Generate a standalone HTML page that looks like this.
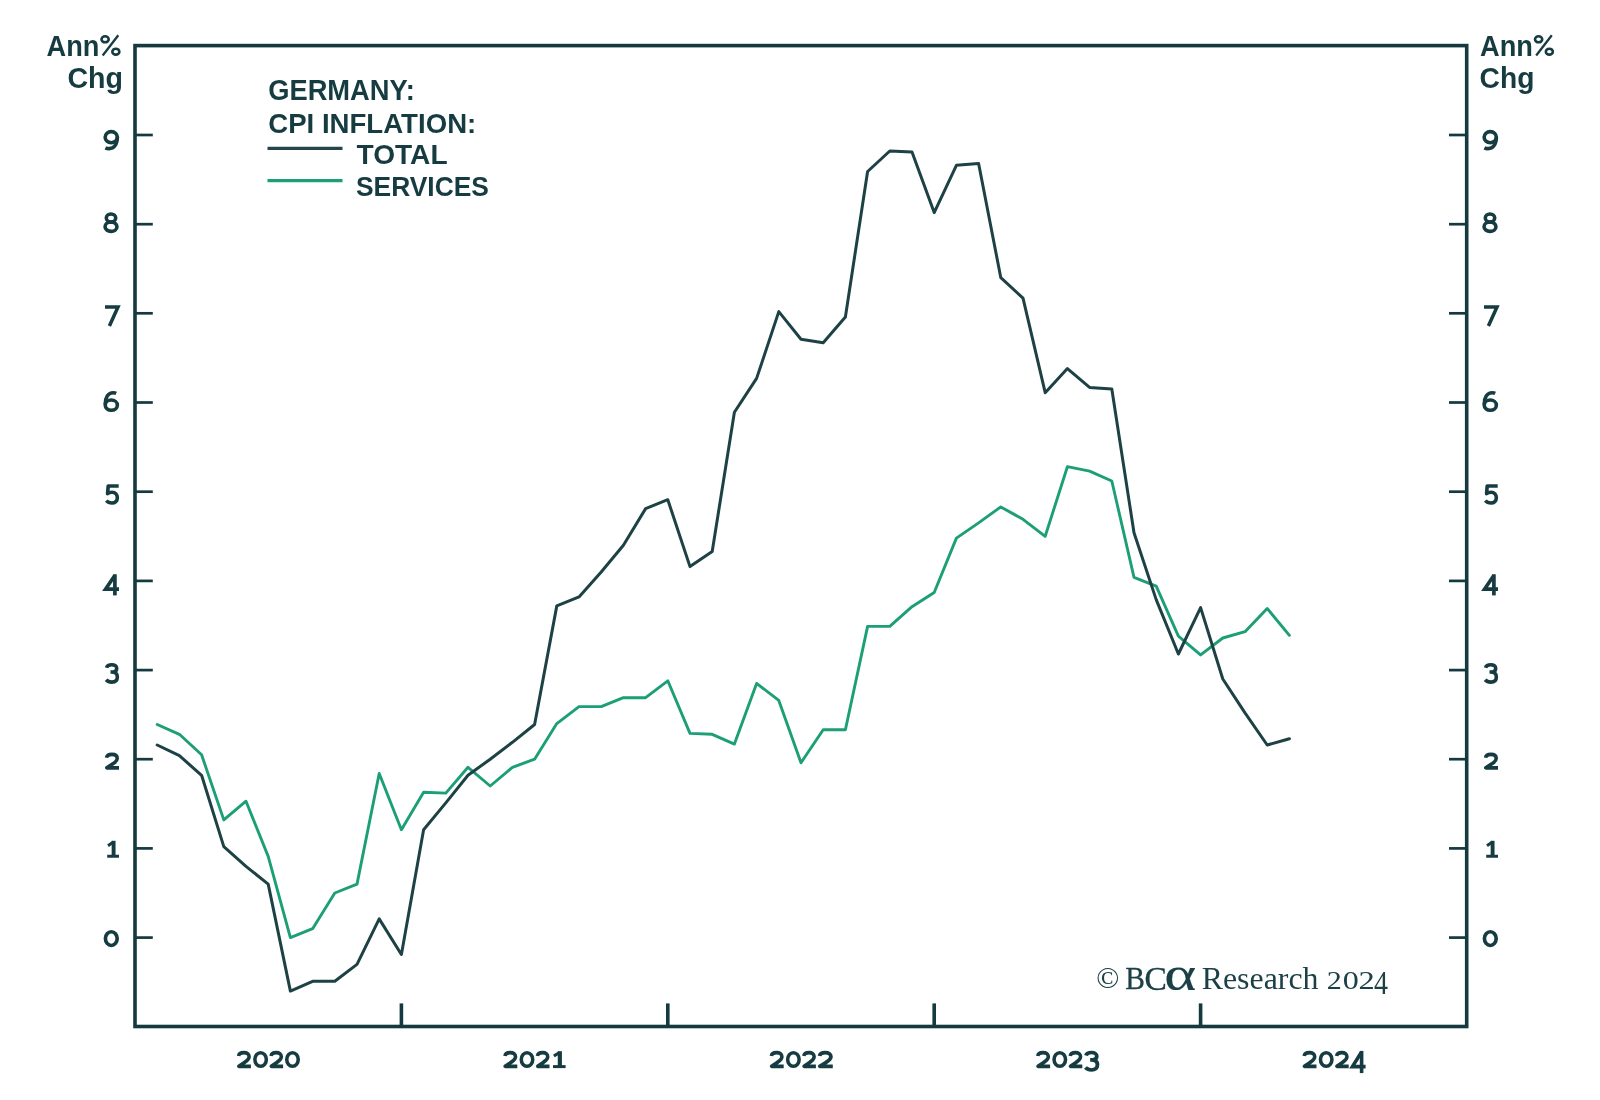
<!DOCTYPE html>
<html><head><meta charset="utf-8"><title>Germany CPI Inflation</title>
<style>
html,body{margin:0;padding:0;background:#fff;width:1600px;height:1100px;overflow:hidden}
svg{display:block}
text{-webkit-font-smoothing:antialiased;will-change:transform}
.s{font-family:"Liberation Sans",sans-serif;font-weight:bold}
.r{font-family:"Liberation Serif",serif;font-weight:normal}
.rb{font-family:"Liberation Serif",serif;font-weight:bold}
</style></head><body>
<svg width="1600" height="1100" viewBox="0 0 1600 1100">
<rect x="0" y="0" width="1600" height="1100" fill="#fff"/>
<rect x="135" y="45.6" width="1331.7" height="980.9" fill="none" stroke="#14393e" stroke-width="3.6"/>
<line x1="135" y1="937.6" x2="152.8" y2="937.6" stroke="#14393e" stroke-width="2.7"/>
<line x1="1449" y1="937.6" x2="1466.7" y2="937.6" stroke="#14393e" stroke-width="2.7"/>
<line x1="135" y1="848.4" x2="152.8" y2="848.4" stroke="#14393e" stroke-width="2.7"/>
<line x1="1449" y1="848.4" x2="1466.7" y2="848.4" stroke="#14393e" stroke-width="2.7"/>
<line x1="135" y1="759.2" x2="152.8" y2="759.2" stroke="#14393e" stroke-width="2.7"/>
<line x1="1449" y1="759.2" x2="1466.7" y2="759.2" stroke="#14393e" stroke-width="2.7"/>
<line x1="135" y1="670.1" x2="152.8" y2="670.1" stroke="#14393e" stroke-width="2.7"/>
<line x1="1449" y1="670.1" x2="1466.7" y2="670.1" stroke="#14393e" stroke-width="2.7"/>
<line x1="135" y1="580.9" x2="152.8" y2="580.9" stroke="#14393e" stroke-width="2.7"/>
<line x1="1449" y1="580.9" x2="1466.7" y2="580.9" stroke="#14393e" stroke-width="2.7"/>
<line x1="135" y1="491.7" x2="152.8" y2="491.7" stroke="#14393e" stroke-width="2.7"/>
<line x1="1449" y1="491.7" x2="1466.7" y2="491.7" stroke="#14393e" stroke-width="2.7"/>
<line x1="135" y1="402.5" x2="152.8" y2="402.5" stroke="#14393e" stroke-width="2.7"/>
<line x1="1449" y1="402.5" x2="1466.7" y2="402.5" stroke="#14393e" stroke-width="2.7"/>
<line x1="135" y1="313.3" x2="152.8" y2="313.3" stroke="#14393e" stroke-width="2.7"/>
<line x1="1449" y1="313.3" x2="1466.7" y2="313.3" stroke="#14393e" stroke-width="2.7"/>
<line x1="135" y1="224.2" x2="152.8" y2="224.2" stroke="#14393e" stroke-width="2.7"/>
<line x1="1449" y1="224.2" x2="1466.7" y2="224.2" stroke="#14393e" stroke-width="2.7"/>
<line x1="135" y1="135.0" x2="152.8" y2="135.0" stroke="#14393e" stroke-width="2.7"/>
<line x1="1449" y1="135.0" x2="1466.7" y2="135.0" stroke="#14393e" stroke-width="2.7"/>
<line x1="401.4" y1="1003.4" x2="401.4" y2="1026.5" stroke="#14393e" stroke-width="3.6"/>
<line x1="667.8" y1="1003.4" x2="667.8" y2="1026.5" stroke="#14393e" stroke-width="3.6"/>
<line x1="934.2" y1="1003.4" x2="934.2" y2="1026.5" stroke="#14393e" stroke-width="3.6"/>
<line x1="1200.6" y1="1003.4" x2="1200.6" y2="1026.5" stroke="#14393e" stroke-width="3.6"/>
<polyline points="157.2,724.5 179.4,734.3 201.6,754.8 223.8,819.9 246.0,801.2 268.2,856.4 290.4,937.6 312.6,928.7 334.8,893.0 357.0,884.1 379.2,773.5 401.4,829.7 423.6,792.2 445.8,793.1 468.0,767.3 490.2,786.0 512.4,767.3 534.6,759.2 556.8,723.6 579.0,706.6 601.2,706.6 623.4,697.7 645.6,697.7 667.8,680.8 690.0,733.4 712.2,734.3 734.4,744.1 756.6,683.4 778.8,700.4 801.0,762.8 823.2,729.8 845.4,729.8 867.6,626.4 889.8,626.4 912.0,606.7 934.2,592.5 956.4,538.1 978.6,522.9 1000.8,506.9 1023.0,519.3 1045.2,536.3 1067.4,466.7 1089.6,471.2 1111.8,481.0 1134.0,577.3 1156.2,586.2 1178.4,636.2 1200.6,654.9 1222.8,638.0 1245.0,631.7 1267.2,608.5 1289.4,635.3" fill="none" stroke="#1c9f76" stroke-width="2.9" stroke-linejoin="round" stroke-linecap="round"/>
<polyline points="157.2,745.0 179.4,755.7 201.6,775.3 223.8,846.6 246.0,866.3 268.2,884.1 290.4,991.1 312.6,981.3 334.8,981.3 357.0,964.4 379.2,918.9 401.4,954.5 423.6,829.7 445.8,802.9 468.0,775.3 490.2,759.2 512.4,742.3 534.6,724.5 556.8,605.9 579.0,596.9 601.2,572.0 623.4,545.2 645.6,508.6 667.8,499.7 690.0,566.6 712.2,551.5 734.4,412.3 756.6,378.4 778.8,311.6 801.0,339.2 823.2,342.8 845.4,316.9 867.6,171.5 889.8,151.0 912.0,151.9 934.2,212.6 956.4,165.3 978.6,163.5 1000.8,277.7 1023.0,298.2 1045.2,392.7 1067.4,368.6 1089.6,387.4 1111.8,389.1 1134.0,532.7 1156.2,599.6 1178.4,654.0 1200.6,607.6 1222.8,679.0 1245.0,712.9 1267.2,745.0 1289.4,738.7" fill="none" stroke="#1d4145" stroke-width="3.0" stroke-linejoin="round" stroke-linecap="round"/>
<line x1="267.5" y1="148.4" x2="342.5" y2="148.4" stroke="#24454a" stroke-width="3.1"/>
<line x1="267.5" y1="180.6" x2="342.5" y2="180.6" stroke="#1c9f76" stroke-width="3.4"/>
<text class="s" font-size="100" fill="#163c41"  transform="matrix(0.27224 0 0 0.29710 46.52 55.70)">Ann</text>
<g fill="none" stroke="#163c41" transform="translate(0.00 0)"><ellipse cx="105.1" cy="39.3" rx="3.6" ry="3.0" stroke-width="2.6"/><ellipse cx="115.85" cy="51.7" rx="3.5" ry="2.95" stroke-width="2.6"/><path d="M118.3,35.3 L102.7,55.5" stroke-width="2.3"/></g>
<text class="s" font-size="100" fill="#163c41"  transform="matrix(0.28610 0 0 0.28936 67.46 87.98)">Chg</text>
<text class="s" font-size="100" fill="#163c41"  transform="matrix(0.27224 0 0 0.29710 1480.02 55.70)">Ann</text>
<g fill="none" stroke="#163c41" transform="translate(1433.50 0)"><ellipse cx="105.1" cy="39.3" rx="3.6" ry="3.0" stroke-width="2.6"/><ellipse cx="115.85" cy="51.7" rx="3.5" ry="2.95" stroke-width="2.6"/><path d="M118.3,35.3 L102.7,55.5" stroke-width="2.3"/></g>
<text class="s" font-size="100" fill="#163c41"  transform="matrix(0.28229 0 0 0.28936 1479.57 87.98)">Chg</text>
<text class="s" font-size="100" fill="#163c41"  transform="matrix(0.27297 0 0 0.29155 268.21 99.71)">GERMANY:</text>
<text class="s" font-size="100" fill="#163c41"  transform="matrix(0.27622 0 0 0.28521 268.20 132.71)">CPI INFLATION:</text>
<text class="s" font-size="100" fill="#163c41"  transform="matrix(0.28125 0 0 0.28521 356.47 164.21)">TOTAL</text>
<text class="s" font-size="100" fill="#163c41"  transform="matrix(0.26408 0 0 0.28521 355.96 195.71)">SERVICES</text>
<g transform="matrix(1.0065 0 0 1.0000 103.60 930.00)" fill="none" stroke="#163c41" stroke-width="3.60" stroke-linecap="butt" stroke-linejoin="round"><ellipse cx="7.65" cy="8.62" rx="5.85" ry="6.83"/></g>
<g transform="matrix(1.0065 0 0 1.0000 1482.60 930.00)" fill="none" stroke="#163c41" stroke-width="3.60" stroke-linecap="butt" stroke-linejoin="round"><ellipse cx="7.65" cy="8.62" rx="5.85" ry="6.83"/></g>
<g transform="matrix(1.0000 0 0 1.0000 107.00 840.50)" fill="none" stroke="#163c41" stroke-width="3.60" stroke-linecap="butt" stroke-linejoin="round"><path d="M6.6,0.3 V15.6"  stroke-width="3.9"/><path d="M0.2,15.75 H12" stroke-width="3.0"/><path d="M1.0,5.2 L6.4,1.6" stroke-width="3.0"/></g>
<g transform="matrix(1.0000 0 0 1.0000 1486.00 840.50)" fill="none" stroke="#163c41" stroke-width="3.60" stroke-linecap="butt" stroke-linejoin="round"><path d="M6.6,0.3 V15.6"  stroke-width="3.9"/><path d="M0.2,15.75 H12" stroke-width="3.0"/><path d="M1.0,5.2 L6.4,1.6" stroke-width="3.0"/></g>
<g transform="matrix(1.0000 0 0 1.0000 104.90 752.75)" fill="none" stroke="#163c41" stroke-width="3.60" stroke-linecap="butt" stroke-linejoin="round"><path d="M1.7,5.0 C2.0,2.6 4.2,1.65 7.0,1.65 C10.2,1.65 12.3,3.2 12.3,5.7 C12.3,8.4 10.2,9.6 7.6,11.3 L1.9,15.1 H14.1"/></g>
<g transform="matrix(1.0000 0 0 1.0000 1483.90 752.75)" fill="none" stroke="#163c41" stroke-width="3.60" stroke-linecap="butt" stroke-linejoin="round"><path d="M1.7,5.0 C2.0,2.6 4.2,1.65 7.0,1.65 C10.2,1.65 12.3,3.2 12.3,5.7 C12.3,8.4 10.2,9.6 7.6,11.3 L1.9,15.1 H14.1"/></g>
<g transform="matrix(1.0000 0 0 1.0000 104.90 663.10)" fill="none" stroke="#163c41" stroke-width="3.60" stroke-linecap="butt" stroke-linejoin="round"><path d="M1.6,4.6 C2.3,2.5 4.4,1.65 6.9,1.65 C9.9,1.65 11.8,3.1 11.8,5.4 C11.8,7.7 9.9,8.95 6.8,8.95 H5.6 M6.8,8.95 C10.6,8.95 12.45,11.0 12.45,13.9 C12.45,17.2 10.2,19.0 6.9,19.0 C4.6,19.0 2.6,18.2 1.2,16.6"/></g>
<g transform="matrix(1.0000 0 0 1.0000 1483.90 663.10)" fill="none" stroke="#163c41" stroke-width="3.60" stroke-linecap="butt" stroke-linejoin="round"><path d="M1.6,4.6 C2.3,2.5 4.4,1.65 6.9,1.65 C9.9,1.65 11.8,3.1 11.8,5.4 C11.8,7.7 9.9,8.95 6.8,8.95 H5.6 M6.8,8.95 C10.6,8.95 12.45,11.0 12.45,13.9 C12.45,17.2 10.2,19.0 6.9,19.0 C4.6,19.0 2.6,18.2 1.2,16.6"/></g>
<g transform="matrix(1.0000 0 0 1.0000 103.60 574.25)" fill="none" stroke="#163c41" stroke-width="3.60" stroke-linecap="butt" stroke-linejoin="round"><path d="M11.3,0 V21.15" stroke-width="3.7"/><path d="M11.2,1.2 L1.9,14.9 H15.4" stroke-linejoin="miter"/></g>
<g transform="matrix(1.0000 0 0 1.0000 1482.60 574.25)" fill="none" stroke="#163c41" stroke-width="3.60" stroke-linecap="butt" stroke-linejoin="round"><path d="M11.3,0 V21.15" stroke-width="3.7"/><path d="M11.2,1.2 L1.9,14.9 H15.4" stroke-linejoin="miter"/></g>
<g transform="matrix(1.0000 0 0 1.0000 105.10 484.25)" fill="none" stroke="#163c41" stroke-width="3.60" stroke-linecap="butt" stroke-linejoin="round"><path d="M13.6,1.75 H3.1 L2.5,9.4 C3.8,8.4 5.2,8.0 6.9,8.0 C10.4,8.0 12.25,10.6 12.25,13.6 C12.25,16.9 10.0,18.8 6.8,18.8 C4.6,18.8 2.6,18.0 1.2,16.4"/></g>
<g transform="matrix(1.0000 0 0 1.0000 1484.10 484.25)" fill="none" stroke="#163c41" stroke-width="3.60" stroke-linecap="butt" stroke-linejoin="round"><path d="M13.6,1.75 H3.1 L2.5,9.4 C3.8,8.4 5.2,8.0 6.9,8.0 C10.4,8.0 12.25,10.6 12.25,13.6 C12.25,16.9 10.0,18.8 6.8,18.8 C4.6,18.8 2.6,18.0 1.2,16.4"/></g>
<g transform="matrix(1.0000 0 0 0.9995 103.60 391.06)" fill="none" stroke="#163c41" stroke-width="3.60" stroke-linecap="butt" stroke-linejoin="round"><ellipse cx="7.7" cy="14.1" rx="6.05" ry="5.1"/><path d="M12.6,2.3 C11.6,1.8 10.6,1.65 9.6,1.65 C4.6,1.65 1.65,6.2 1.65,13.2"/></g>
<g transform="matrix(1.0000 0 0 0.9995 1482.60 391.06)" fill="none" stroke="#163c41" stroke-width="3.60" stroke-linecap="butt" stroke-linejoin="round"><ellipse cx="7.7" cy="14.1" rx="6.05" ry="5.1"/><path d="M12.6,2.3 C11.6,1.8 10.6,1.65 9.6,1.65 C4.6,1.65 1.65,6.2 1.65,13.2"/></g>
<g transform="matrix(1.0000 0 0 1.0000 104.40 305.20)" fill="none" stroke="#163c41" stroke-width="3.60" stroke-linecap="butt" stroke-linejoin="round"><path d="M0.6,1.75 H13.6 L5.0,20.8" stroke-width="3.5" stroke-linejoin="miter"/></g>
<g transform="matrix(1.0000 0 0 1.0000 1483.40 305.20)" fill="none" stroke="#163c41" stroke-width="3.60" stroke-linecap="butt" stroke-linejoin="round"><path d="M0.6,1.75 H13.6 L5.0,20.8" stroke-width="3.5" stroke-linejoin="miter"/></g>
<g transform="matrix(1.0000 0 0 1.0000 103.40 212.40)" fill="none" stroke="#163c41" stroke-width="3.60" stroke-linecap="butt" stroke-linejoin="round"><ellipse cx="7.6" cy="5.7" rx="4.7" ry="4.05"/><ellipse cx="7.6" cy="14.3" rx="5.95" ry="4.65"/></g>
<g transform="matrix(1.0000 0 0 1.0000 1482.40 212.40)" fill="none" stroke="#163c41" stroke-width="3.60" stroke-linecap="butt" stroke-linejoin="round"><ellipse cx="7.6" cy="5.7" rx="4.7" ry="4.05"/><ellipse cx="7.6" cy="14.3" rx="5.95" ry="4.65"/></g>
<g transform="matrix(1.0000 0 0 1.0000 103.50 130.00)" fill="none" stroke="#163c41" stroke-width="3.60" stroke-linecap="butt" stroke-linejoin="round"><ellipse cx="7.75" cy="7.2" rx="6.1" ry="5.55"/><path d="M13.85,7.0 C13.85,14.2 10.6,18.6 5.6,18.6 C4.0,18.6 2.9,18.4 1.9,17.9"/></g>
<g transform="matrix(1.0000 0 0 1.0000 1482.50 130.00)" fill="none" stroke="#163c41" stroke-width="3.60" stroke-linecap="butt" stroke-linejoin="round"><ellipse cx="7.75" cy="7.2" rx="6.1" ry="5.55"/><path d="M13.85,7.0 C13.85,14.2 10.6,18.6 5.6,18.6 C4.0,18.6 2.9,18.4 1.9,17.9"/></g>
<g transform="matrix(0.9929 0 0 1.0208 236.90 1050.90)" fill="none" stroke="#163c41" stroke-width="3.60" stroke-linecap="butt" stroke-linejoin="round"><path d="M1.7,5.0 C2.0,2.6 4.2,1.65 7.0,1.65 C10.2,1.65 12.3,3.2 12.3,5.7 C12.3,8.4 10.2,9.6 7.6,11.3 L1.9,15.1 H14.1"/></g>
<g transform="matrix(0.9804 0 0 0.9971 253.10 1050.90)" fill="none" stroke="#163c41" stroke-width="3.60" stroke-linecap="butt" stroke-linejoin="round"><ellipse cx="7.65" cy="8.62" rx="5.85" ry="6.83"/></g>
<g transform="matrix(0.9716 0 0 1.0208 269.40 1050.90)" fill="none" stroke="#163c41" stroke-width="3.60" stroke-linecap="butt" stroke-linejoin="round"><path d="M1.7,5.0 C2.0,2.6 4.2,1.65 7.0,1.65 C10.2,1.65 12.3,3.2 12.3,5.7 C12.3,8.4 10.2,9.6 7.6,11.3 L1.9,15.1 H14.1"/></g>
<g transform="matrix(0.9804 0 0 0.9971 285.00 1050.90)" fill="none" stroke="#163c41" stroke-width="3.60" stroke-linecap="butt" stroke-linejoin="round"><ellipse cx="7.65" cy="8.62" rx="5.85" ry="6.83"/></g>
<g transform="matrix(0.9929 0 0 1.0208 503.30 1050.90)" fill="none" stroke="#163c41" stroke-width="3.60" stroke-linecap="butt" stroke-linejoin="round"><path d="M1.7,5.0 C2.0,2.6 4.2,1.65 7.0,1.65 C10.2,1.65 12.3,3.2 12.3,5.7 C12.3,8.4 10.2,9.6 7.6,11.3 L1.9,15.1 H14.1"/></g>
<g transform="matrix(0.9804 0 0 0.9971 519.50 1050.90)" fill="none" stroke="#163c41" stroke-width="3.60" stroke-linecap="butt" stroke-linejoin="round"><ellipse cx="7.65" cy="8.62" rx="5.85" ry="6.83"/></g>
<g transform="matrix(0.9716 0 0 1.0208 535.80 1050.90)" fill="none" stroke="#163c41" stroke-width="3.60" stroke-linecap="butt" stroke-linejoin="round"><path d="M1.7,5.0 C2.0,2.6 4.2,1.65 7.0,1.65 C10.2,1.65 12.3,3.2 12.3,5.7 C12.3,8.4 10.2,9.6 7.6,11.3 L1.9,15.1 H14.1"/></g>
<g transform="matrix(1.0667 0 0 0.9971 552.80 1050.90)" fill="none" stroke="#163c41" stroke-width="3.60" stroke-linecap="butt" stroke-linejoin="round"><path d="M6.6,0.3 V15.6"  stroke-width="3.9"/><path d="M0.2,15.75 H12" stroke-width="3.0"/><path d="M1.0,5.2 L6.4,1.6" stroke-width="3.0"/></g>
<g transform="matrix(0.9929 0 0 1.0208 769.70 1050.90)" fill="none" stroke="#163c41" stroke-width="3.60" stroke-linecap="butt" stroke-linejoin="round"><path d="M1.7,5.0 C2.0,2.6 4.2,1.65 7.0,1.65 C10.2,1.65 12.3,3.2 12.3,5.7 C12.3,8.4 10.2,9.6 7.6,11.3 L1.9,15.1 H14.1"/></g>
<g transform="matrix(0.9804 0 0 0.9971 785.90 1050.90)" fill="none" stroke="#163c41" stroke-width="3.60" stroke-linecap="butt" stroke-linejoin="round"><ellipse cx="7.65" cy="8.62" rx="5.85" ry="6.83"/></g>
<g transform="matrix(0.9716 0 0 1.0208 802.20 1050.90)" fill="none" stroke="#163c41" stroke-width="3.60" stroke-linecap="butt" stroke-linejoin="round"><path d="M1.7,5.0 C2.0,2.6 4.2,1.65 7.0,1.65 C10.2,1.65 12.3,3.2 12.3,5.7 C12.3,8.4 10.2,9.6 7.6,11.3 L1.9,15.1 H14.1"/></g>
<g transform="matrix(1.0638 0 0 1.0208 817.80 1050.90)" fill="none" stroke="#163c41" stroke-width="3.60" stroke-linecap="butt" stroke-linejoin="round"><path d="M1.7,5.0 C2.0,2.6 4.2,1.65 7.0,1.65 C10.2,1.65 12.3,3.2 12.3,5.7 C12.3,8.4 10.2,9.6 7.6,11.3 L1.9,15.1 H14.1"/></g>
<g transform="matrix(0.9929 0 0 1.0208 1036.10 1050.90)" fill="none" stroke="#163c41" stroke-width="3.60" stroke-linecap="butt" stroke-linejoin="round"><path d="M1.7,5.0 C2.0,2.6 4.2,1.65 7.0,1.65 C10.2,1.65 12.3,3.2 12.3,5.7 C12.3,8.4 10.2,9.6 7.6,11.3 L1.9,15.1 H14.1"/></g>
<g transform="matrix(0.9804 0 0 0.9971 1052.30 1050.90)" fill="none" stroke="#163c41" stroke-width="3.60" stroke-linecap="butt" stroke-linejoin="round"><ellipse cx="7.65" cy="8.62" rx="5.85" ry="6.83"/></g>
<g transform="matrix(0.9716 0 0 1.0208 1068.60 1050.90)" fill="none" stroke="#163c41" stroke-width="3.60" stroke-linecap="butt" stroke-linejoin="round"><path d="M1.7,5.0 C2.0,2.6 4.2,1.65 7.0,1.65 C10.2,1.65 12.3,3.2 12.3,5.7 C12.3,8.4 10.2,9.6 7.6,11.3 L1.9,15.1 H14.1"/></g>
<g transform="matrix(1.0638 0 0 1.0024 1084.20 1050.90)" fill="none" stroke="#163c41" stroke-width="3.60" stroke-linecap="butt" stroke-linejoin="round"><path d="M1.6,4.6 C2.3,2.5 4.4,1.65 6.9,1.65 C9.9,1.65 11.8,3.1 11.8,5.4 C11.8,7.7 9.9,8.95 6.8,8.95 H5.6 M6.8,8.95 C10.6,8.95 12.45,11.0 12.45,13.9 C12.45,17.2 10.2,19.0 6.9,19.0 C4.6,19.0 2.6,18.2 1.2,16.6"/></g>
<g transform="matrix(0.9929 0 0 1.0208 1302.50 1050.90)" fill="none" stroke="#163c41" stroke-width="3.60" stroke-linecap="butt" stroke-linejoin="round"><path d="M1.7,5.0 C2.0,2.6 4.2,1.65 7.0,1.65 C10.2,1.65 12.3,3.2 12.3,5.7 C12.3,8.4 10.2,9.6 7.6,11.3 L1.9,15.1 H14.1"/></g>
<g transform="matrix(0.9804 0 0 0.9971 1318.70 1050.90)" fill="none" stroke="#163c41" stroke-width="3.60" stroke-linecap="butt" stroke-linejoin="round"><ellipse cx="7.65" cy="8.62" rx="5.85" ry="6.83"/></g>
<g transform="matrix(0.9716 0 0 1.0208 1335.00 1050.90)" fill="none" stroke="#163c41" stroke-width="3.60" stroke-linecap="butt" stroke-linejoin="round"><path d="M1.7,5.0 C2.0,2.6 4.2,1.65 7.0,1.65 C10.2,1.65 12.3,3.2 12.3,5.7 C12.3,8.4 10.2,9.6 7.6,11.3 L1.9,15.1 H14.1"/></g>
<g transform="matrix(0.9740 0 0 1.0496 1350.60 1050.90)" fill="none" stroke="#163c41" stroke-width="3.60" stroke-linecap="butt" stroke-linejoin="round"><path d="M11.3,0 V21.15" stroke-width="3.7"/><path d="M11.2,1.2 L1.9,14.9 H15.4" stroke-linejoin="miter"/></g>
<text class="r" font-size="100" fill="#1b4046"  transform="matrix(0.30370 0 0 0.28889 1096.13 987.71)">&#169;</text>
<text class="r" font-size="100" fill="#1b4046" stroke="#1b4046" stroke-width="0.9" stroke-linejoin="round" transform="matrix(0.29492 0 0 0.32519 1125.32 989.20)">B</text>
<text class="r" font-size="100" fill="#1b4046" stroke="#1b4046" stroke-width="0.9" stroke-linejoin="round" transform="matrix(0.33509 0 0 0.34328 1144.56 989.66)">C</text>
<text class="r" font-size="100" fill="#1b4046" stroke="#1b4046" stroke-width="0.3" transform="matrix(0.61087 0 0 0.47917 1164.26 989.52)">&#945;</text>
<text class="r" font-size="100" fill="#1b4046"  transform="matrix(0.31851 0 0 0.31915 1201.74 989.18)">Research</text>
<text class="r" font-size="100" fill="#1b4046"  transform="matrix(0.30000 0 0 0.25758 1326.65 989.00)">2</text>
<text class="r" font-size="100" fill="#1b4046"  transform="matrix(0.32143 0 0 0.25185 1342.71 988.75)">0</text>
<text class="r" font-size="100" fill="#1b4046"  transform="matrix(0.32500 0 0 0.25758 1358.54 989.00)">2</text>
<text class="r" font-size="100" fill="#1b4046"  transform="matrix(0.27957 0 0 0.33846 1373.94 994.17)">4</text>
</svg></body></html>
